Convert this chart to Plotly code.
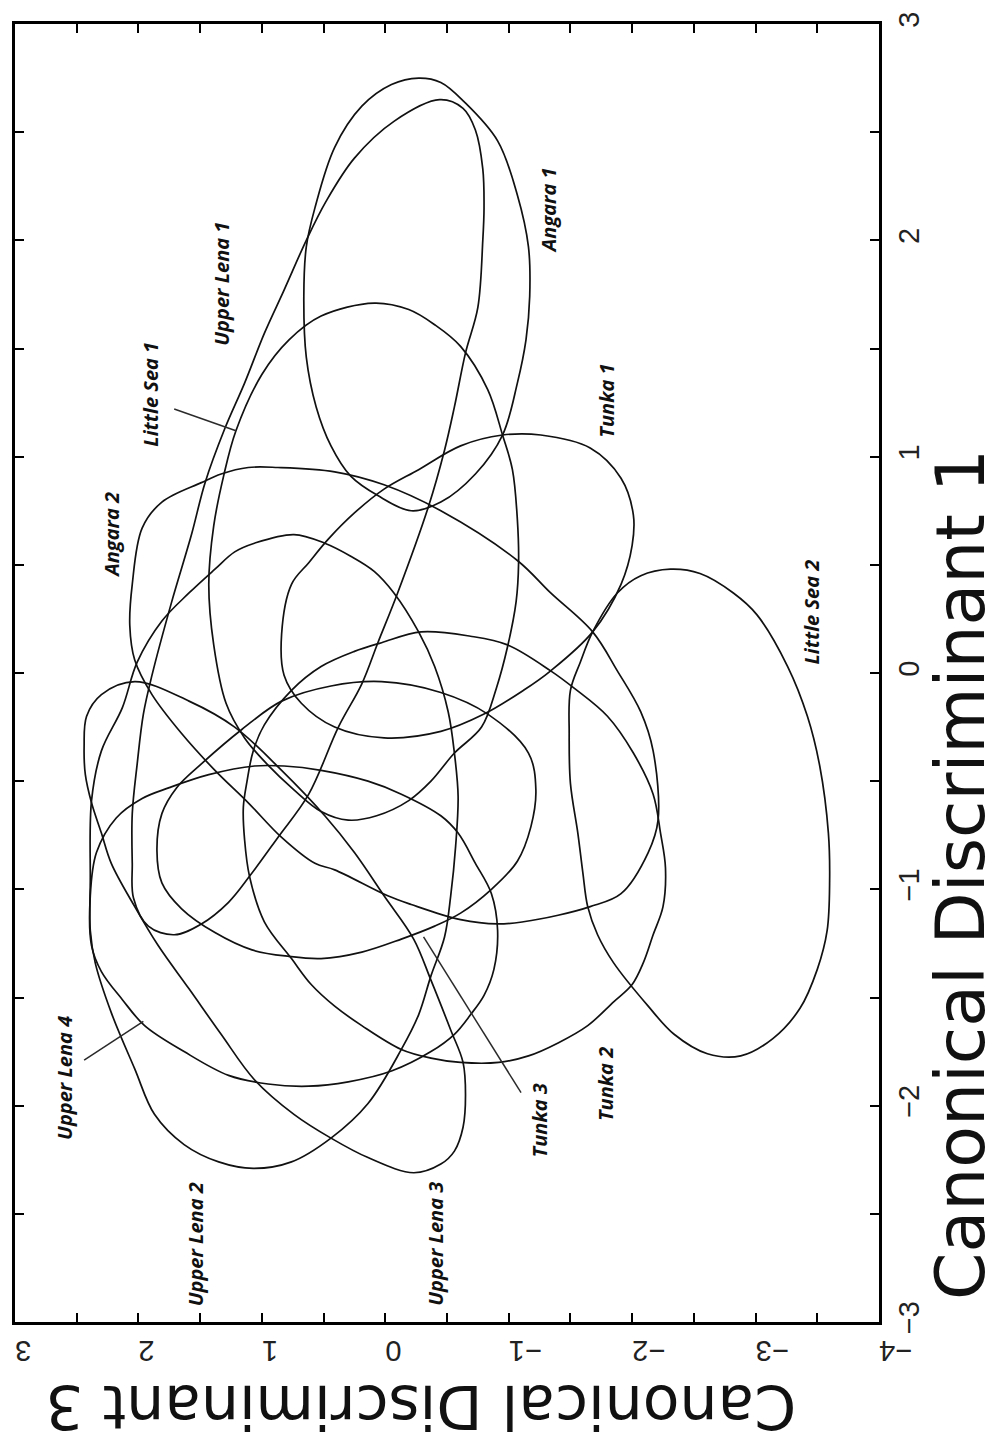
import plotly.graph_objects as go

# Group contours in discriminant space: CD1 (vertical) and CD3 (horizontal)
angara1_cd1 = [2.75, 2.73, 2.64, 2.46, 2.21, 1.97, 1.74, 1.54, 1.34, 1.10, 0.92, 0.79,
               0.75, 0.82, 0.91, 1.05, 1.23, 1.46, 1.74, 1.97, 2.15, 2.43, 2.62, 2.72]
angara1_cd3 = [-0.27, -0.45, -0.64, -0.91, -1.07, -1.16, -1.17, -1.14, -1.07, -0.95, -0.73, -0.45,
               -0.21, 0.06, 0.28, 0.44, 0.56, 0.64, 0.66, 0.64, 0.57, 0.41, 0.19, -0.05]

upper_lena1_cd1 = [2.65, 2.61, 2.51, 2.33, 2.15, 2.00, 1.69, 1.48, 1.23, 1.03, 0.77, 0.37, 0.14,
                   -0.05, -0.25, -0.56, -0.76, -0.94, -1.06, -1.16, -1.21, -1.17, -1.04, -0.88,
                   -0.65, -0.42, -0.19, -0.01, 0.33, 0.64, 0.88, 1.13, 1.34, 1.57, 1.77, 2.00,
                   2.18, 2.38, 2.55]
upper_lena1_cd3 = [-0.44, -0.63, -0.73, -0.79, -0.80, -0.79, -0.75, -0.65, -0.56, -0.48, -0.35,
                   -0.10, 0.06, 0.19, 0.38, 0.62, 0.87, 1.10, 1.27, 1.49, 1.71, 1.92, 2.04, 2.05,
                   2.05, 2.01, 1.96, 1.89, 1.73, 1.57, 1.46, 1.30, 1.14, 0.98, 0.82, 0.64, 0.48,
                   0.25, -0.07]

little_sea1_cd1 = [1.71, 1.68, 1.61, 1.51, 1.31, 1.10, 0.94, 0.71, 0.51, 0.33, 0.12, -0.07, -0.25,
                   -0.37, -0.50, -0.59, -0.66, -0.68, -0.64, -0.54, -0.42, -0.30, -0.14, 0.13,
                   0.41, 0.68, 0.91, 1.12, 1.38, 1.54, 1.65]
little_sea1_cd3 = [0.09, -0.19, -0.40, -0.61, -0.83, -0.95, -1.03, -1.07, -1.08, -1.06, -0.99,
                   -0.90, -0.78, -0.56, -0.37, -0.19, 0.07, 0.30, 0.52, 0.74, 0.96, 1.14, 1.29,
                   1.39, 1.43, 1.39, 1.31, 1.21, 1.00, 0.78, 0.52]

tunka1_cd1 = [1.10, 1.04, 0.90, 0.73, 0.59, 0.41, 0.19, 0.01, -0.08, -0.19, -0.27, -0.30,
              -0.25, -0.14, -0.01, 0.18, 0.41, 0.51, 0.62, 0.74, 0.85, 0.94, 1.05, 1.10]
tunka1_cd3 = [-1.26, -1.66, -1.91, -2.01, -2.00, -1.91, -1.68, -1.34, -1.12, -0.80, -0.45, 0.01,
              0.41, 0.68, 0.82, 0.84, 0.76, 0.62, 0.46, 0.25, 0.01, -0.27, -0.61, -0.95]

little_sea2_cd1 = [0.48, 0.46, 0.37, 0.27, 0.03, -0.20, -0.43, -0.74, -0.96, -1.19, -1.37, -1.55,
                   -1.69, -1.77, -1.76, -1.67, -1.54, -1.34, -1.21, -1.08, -0.92, -0.74, -0.51,
                   -0.28, -0.08, 0.05, 0.19, 0.37, 0.45]
little_sea2_cd3 = [-2.31, -2.55, -2.82, -3.01, -3.26, -3.42, -3.52, -3.59, -3.60, -3.58, -3.50,
                   -3.36, -3.14, -2.88, -2.61, -2.34, -2.13, -1.85, -1.72, -1.64, -1.60, -1.56,
                   -1.50, -1.49, -1.50, -1.58, -1.68, -1.88, -2.07]

angara2_cd1 = [0.95, 0.93, 0.87, 0.75, 0.52, 0.37, 0.19, 0.01, -0.18, -0.36, -0.68, -0.83,
               -1.02, -1.08, -1.12, -1.15, -1.16, -1.14, -1.07, -1.03, -0.91, -0.88, -0.76,
               -0.60, -0.45, -0.28, -0.10, 0.06, 0.22, 0.41, 0.67, 0.79, 0.88, 0.92, 0.95]
angara2_cd3 = [0.87, 0.41, 0.01, -0.45, -1.07, -1.34, -1.68, -1.88, -2.07, -2.17, -2.21, -2.13,
               -1.91, -1.66, -1.40, -1.12, -0.91, -0.61, -0.21, -0.02, 0.41, 0.57, 0.84, 1.11,
               1.38, 1.65, 1.89, 2.03, 2.07, 2.05, 1.97, 1.81, 1.49, 1.33, 1.11]

tunka2_cd1 = [0.19, 0.17, 0.13, 0.01, -0.07, -0.20, -0.37, -0.56, -0.74, -0.90, -1.08, -1.21,
              -1.34, -1.44, -1.52, -1.63, -1.71, -1.77, -1.80, -1.80, -1.78, -1.74, -1.63,
              -1.54, -1.44, -1.32, -1.15, -0.94, -0.77, -0.62, -0.50, -0.36, -0.24, -0.08,
              0.03, 0.10, 0.14]
tunka2_cd3 = [-0.29, -0.69, -0.99, -1.34, -1.53, -1.80, -2.01, -2.17, -2.23, -2.27, -2.25, -2.17,
              -2.09, -2.00, -1.85, -1.64, -1.40, -1.16, -0.92, -0.61, -0.37, -0.13, 0.19, 0.41,
              0.60, 0.76, 0.98, 1.10, 1.14, 1.15, 1.12, 1.07, 0.98, 0.76, 0.52, 0.25, 0.03]

tunka3_cd1 = [-0.04, -0.09, -0.19, -0.37, -0.54, -0.71, -0.87, -1.00, -1.11, -1.17, -1.23, -1.29,
              -1.32, -1.31, -1.28, -1.20, -1.09, -0.97, -0.82, -0.65, -0.53, -0.42, -0.26,
              -0.13, -0.06]
tunka3_cd3 = [0.03, -0.45, -0.83, -1.16, -1.22, -1.18, -1.07, -0.86, -0.61, -0.40, -0.13, 0.19,
              0.52, 0.78, 1.08, 1.38, 1.65, 1.81, 1.85, 1.81, 1.69, 1.49, 1.16, 0.84, 0.44]

upper_lena2_cd1 = [0.64, 0.60, 0.54, 0.47, 0.37, 0.19, 0.03, -0.18, -0.37, -0.57, -0.80, -1.03,
                   -1.22, -1.40, -1.58, -1.74, -1.99, -2.15, -2.26, -2.29, -2.26, -2.18, -2.04,
                   -1.83, -1.57, -1.34, -1.19, -0.96, -0.59, -0.36, -0.16, 0.05, 0.24, 0.37,
                   0.48, 0.56, 0.60]
upper_lena2_cd3 = [0.74, 0.49, 0.28, 0.09, -0.07, -0.27, -0.40, -0.51, -0.56, -0.59, -0.57, -0.53,
                   -0.48, -0.37, -0.27, -0.13, 0.14, 0.44, 0.76, 1.07, 1.35, 1.63, 1.87, 2.03,
                   2.22, 2.35, 2.39, 2.39, 2.38, 2.30, 2.13, 2.01, 1.81, 1.59, 1.38, 1.22, 1.06]

upper_lena3_cd1 = [-0.04, -0.13, -0.25, -0.45, -0.66, -0.83, -1.03, -1.23, -1.42, -1.65, -1.80,
                   -1.95, -2.10, -2.21, -2.27, -2.31, -2.24, -2.15, -2.04, -1.88, -1.67, -1.46,
                   -1.26, -1.08, -0.88, -0.74, -0.60, -0.47, -0.34, -0.20, -0.10]
upper_lena3_cd3 = [2.03, 1.59, 1.22, 0.84, 0.49, 0.25, 0.01, -0.23, -0.37, -0.53, -0.63, -0.65,
                   -0.63, -0.56, -0.45, -0.23, 0.14, 0.44, 0.74, 1.06, 1.33, 1.59, 1.84, 2.03,
                   2.22, 2.30, 2.38, 2.43, 2.44, 2.42, 2.30]

upper_lena4_cd1 = [-0.43, -0.45, -0.50, -0.56, -0.66, -0.74, -0.88, -1.02, -1.19, -1.37, -1.49,
                   -1.58, -1.67, -1.75, -1.84, -1.89, -1.91, -1.90, -1.86, -1.75, -1.63, -1.51,
                   -1.38, -1.26, -1.03, -0.83, -0.67, -0.58, -0.53, -0.47, -0.43]
upper_lena4_cd3 = [0.82, 0.52, 0.14, -0.13, -0.45, -0.59, -0.73, -0.86, -0.91, -0.88, -0.80,
                   -0.69, -0.56, -0.37, -0.05, 0.30, 0.62, 0.95, 1.27, 1.63, 1.95, 2.13, 2.30,
                   2.38, 2.39, 2.34, 2.18, 1.97, 1.75, 1.43, 1.06]

# Group name labels
label_text = ["Upper Lena 1", "Little Sea 1", "Angara 1", "Tunka 1", "Angara 2",
              "Little Sea 2", "Upper Lena 4", "Upper Lena 2", "Upper Lena 3",
              "Tunka 3", "Tunka 2"]
label_cd1 = [1.80, 1.29, 2.14, 1.26, 0.64, 0.28, -1.87, -2.64, -2.64, -2.07, -1.90]
label_cd3 = [1.33, 1.90, -1.32, -1.79, 2.22, -3.45, 2.60, 1.54, -0.40, -1.25, -1.78]

# Leader lines from a label to its contour
leader_little_sea1_cd1 = [1.22, 1.12]
leader_little_sea1_cd3 = [1.71, 1.21]
leader_upper_lena4_cd1 = [-1.79, -1.61]
leader_upper_lena4_cd3 = [2.44, 1.96]
leader_tunka3_cd1 = [-1.22, -1.94]
leader_tunka3_cd3 = [-0.31, -1.10]

# Axis ticks
cd3_tick_vals = [3, 2, 1, 0, -1, -2, -3, -4]
cd1_tick_vals = [-3, -2, -1, 0, 1, 2, 3]

contours = [
    ("Angara 1", angara1_cd3, angara1_cd1),
    ("Upper Lena 1", upper_lena1_cd3, upper_lena1_cd1),
    ("Little Sea 1", little_sea1_cd3, little_sea1_cd1),
    ("Tunka 1", tunka1_cd3, tunka1_cd1),
    ("Little Sea 2", little_sea2_cd3, little_sea2_cd1),
    ("Angara 2", angara2_cd3, angara2_cd1),
    ("Tunka 2", tunka2_cd3, tunka2_cd1),
    ("Tunka 3", tunka3_cd3, tunka3_cd1),
    ("Upper Lena 2", upper_lena2_cd3, upper_lena2_cd1),
    ("Upper Lena 3", upper_lena3_cd3, upper_lena3_cd1),
    ("Upper Lena 4", upper_lena4_cd3, upper_lena4_cd1),
]

leaders = [
    (leader_little_sea1_cd3, leader_little_sea1_cd1),
    (leader_upper_lena4_cd3, leader_upper_lena4_cd1),
    (leader_tunka3_cd3, leader_tunka3_cd1),
]

LINE = "#111111"

fig = go.Figure()

for name, cd3, cd1 in contours:
    # repeat the first vertex so the spline is drawn as a closed curve
    fig.add_trace(go.Scatter(
        x=list(cd3) + [cd3[0]], y=list(cd1) + [cd1[0]],
        mode="lines", name=name,
        line=dict(color=LINE, width=1.7, shape="spline", smoothing=1.0),
        hoverinfo="name",
    ))

for cd3, cd1 in leaders:
    fig.add_trace(go.Scatter(
        x=cd3, y=cd1, mode="lines",
        line=dict(color="#2a2a2a", width=1.5),
        hoverinfo="skip",
    ))

for text, c3, c1 in zip(label_text, label_cd3, label_cd1):
    fig.add_annotation(
        x=c3, y=c1, xref="x", yref="y", text=text, showarrow=False,
        textangle=-90,
        font=dict(family="Open Sans", size=20, color="#111111",
                  style="italic", weight=700),
    )

# Axis titles
fig.add_annotation(
    xref="paper", yref="paper", x=1.0935, y=0.345, text="Canonical Discriminant 1",
    showarrow=False, textangle=-90, xanchor="center", yanchor="middle",
    font=dict(family="DejaVu Sans", size=68, color="#111111"),
)
fig.add_annotation(
    xref="paper", yref="paper", x=0.47, y=-0.066, text="Canonical Discriminant 3",
    showarrow=False, textangle=180, xanchor="center", yanchor="middle",
    font=dict(family="DejaVu Sans", size=60, color="#111111"),
)

tick_font = dict(family="Liberation Sans", size=29, color="#222222")
axis_common = dict(
    showgrid=False, zeroline=False,
    showline=True, linewidth=3, linecolor="black", mirror="ticks",
    ticks="inside", ticklen=9, tickwidth=2, tickcolor="black",
    minor=dict(dtick=0.5, ticks="inside", ticklen=9, tickwidth=2, tickcolor="black"),
    tickfont=tick_font,
)

fig.update_xaxes(
    range=[3, -4], tickvals=cd3_tick_vals, tickangle=180,
    ticklabelstandoff=10, **axis_common,
)
fig.update_yaxes(
    range=[-3, 3], tickvals=cd1_tick_vals, side="right", tickangle=-90,
    ticklabelstandoff=2, **axis_common,
)

fig.update_layout(
    width=1000, height=1447,
    margin=dict(l=13, r=121, t=15, b=125),
    paper_bgcolor="white", plot_bgcolor="white",
    showlegend=False,
)

fig.write_html("out.html")
